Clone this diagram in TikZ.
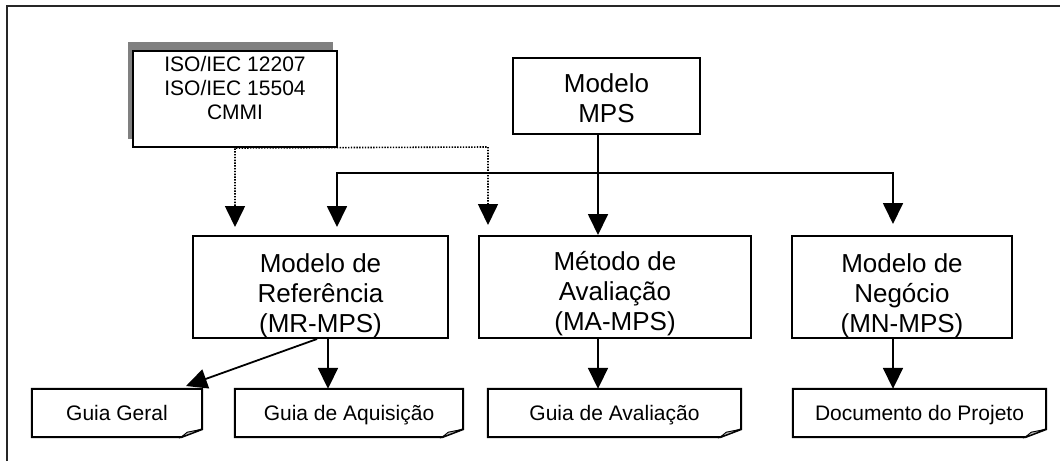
\documentclass[tikz,border=0pt]{standalone}
\usepackage{fontspec}
\setmainfont{Liberation Sans}
\usetikzlibrary{arrows.meta}
\tikzset{
  boxst/.style={draw=black, line width=2pt, rectangle, inner sep=0pt},
  plainbox/.style={rectangle, inner sep=0pt, draw=none},
  bigtxt/.style={align=center, inner sep=0pt, font=\fontsize{26}{30}\selectfont},
  smalltxt/.style={align=center, inner sep=0pt, font=\fontsize{21}{24}\selectfont},
  tipst/.style={Triangle[length=21pt,width=20pt]},
  conn/.style={line width=1.8pt, -{Triangle[length=21pt,width=20pt]}},
  conn2/.style={line width=1.8pt, {Triangle[length=21pt,width=20pt]}-{Triangle[length=21pt,width=20pt]}},
  dotconn/.style={line width=1.6pt, dash pattern=on 1.4pt off 1.4pt, {Triangle[length=21pt,width=20pt]}-{Triangle[length=21pt,width=20pt]}},
}
\newcommand\mydoc[1]{%
  \draw[line width=2pt] (#1.north west) -- (#1.north east) -- ([yshift=8pt]#1.south east) -- ([xshift=-21pt]#1.south east) -- (#1.south west) -- cycle;
  \filldraw[fill=gray!55, line width=0.9pt] ([xshift=-21pt]#1.south east) -- ([xshift=-15pt,yshift=5pt]#1.south east) -- ([yshift=8pt]#1.south east) -- cycle;}
\begin{document}
\begin{tikzpicture}[x=1pt, y=-1pt]
\useasboundingbox (0,0) rectangle (1060,461);
% outer frame (top and left edges)
\draw[line width=2.2pt, black!85] (7,461) -- (7,6) -- (1060,6);

% ISO box with shadow
\fill[black!50] (128,42) rectangle (333,139);
\node[boxst, fill=white, minimum width=204pt, minimum height=96pt] (iso) at (235,99) {};
\node[smalltxt] (isotext) at (235,88) {ISO/IEC 12207\\ISO/IEC 15504\\CMMI};

% Modelo MPS
\node[boxst, minimum width=187pt, minimum height=76pt] (mps) at (606.5,96) {};
\node[bigtxt] (mpstext) at (606.5,98.5) {Modelo\\MPS};

% main boxes
\node[boxst, minimum width=255pt, minimum height=102pt] (mr) at (320.5,287) {};
\node[bigtxt] (mrtext) at (320.5,296) {Modelo de\\Referência\\(MR-MPS)};
\node[boxst, minimum width=272pt, minimum height=102pt] (ma) at (615,287) {};
\node[bigtxt] (matext) at (615,294) {Método de\\Avaliação\\(MA-MPS)};
\node[boxst, minimum width=220pt, minimum height=102pt] (mn) at (902,287) {};
\node[bigtxt] (mntext) at (902,296) {Modelo de\\Negócio\\(MN-MPS)};

% document boxes
\node[plainbox, minimum width=170pt, minimum height=48pt] (gg) at (117,413) {};
\node[plainbox, minimum width=228pt, minimum height=48pt] (gaq) at (349,413) {};
\node[plainbox, minimum width=253pt, minimum height=48pt] (gav) at (614.5,413) {};
\node[plainbox, minimum width=253pt, minimum height=48pt] (dp) at (919.5,413) {};
\mydoc{gg}\mydoc{gaq}\mydoc{gav}\mydoc{dp}
\node[smalltxt, anchor=base] (ggtext) at (117,420) {Guia Geral};
\node[smalltxt, anchor=base] (gaqtext) at (349,420) {Guia de Aquisição};
\node[smalltxt, anchor=base] (gavtext) at (614.5,420) {Guia de Avaliação};
\node[smalltxt, anchor=base] (dptext) at (919.5,420) {Documento do Projeto};

% helper coordinates
\coordinate (xA) at (598,0);
\coordinate (xB) at (328,0);
\coordinate (xC) at (893,0);
\coordinate (xG) at (317,0);
\coordinate (busL) at (337,173);
\coordinate (busR) at (893,173);
\coordinate (tipL) at (337,227);
\coordinate (tipR) at (893,224);
\coordinate (dC) at (488,147);
\coordinate (dT1) at (235,227);
\coordinate (dT2) at (488,225);
\coordinate (tipG) at (186,386);

% connectors
\draw[conn] (mps.south -| xA) -- (ma.north -| xA);
\draw[conn2] (tipL) -- (busL) -- (busR) -- (tipR);
\draw[dotconn] (dT2) -- (dC) -- (iso.south) -- (dT1);
\draw[conn] (mr.south -| xB) -- (gaq.north -| xB);
\draw[conn] (mr.south -| xG) -- (tipG);
\draw[conn] (ma.south -| xA) -- (gav.north -| xA);
\draw[conn] (mn.south -| xC) -- (dp.north -| xC);
\end{tikzpicture}
\end{document}
